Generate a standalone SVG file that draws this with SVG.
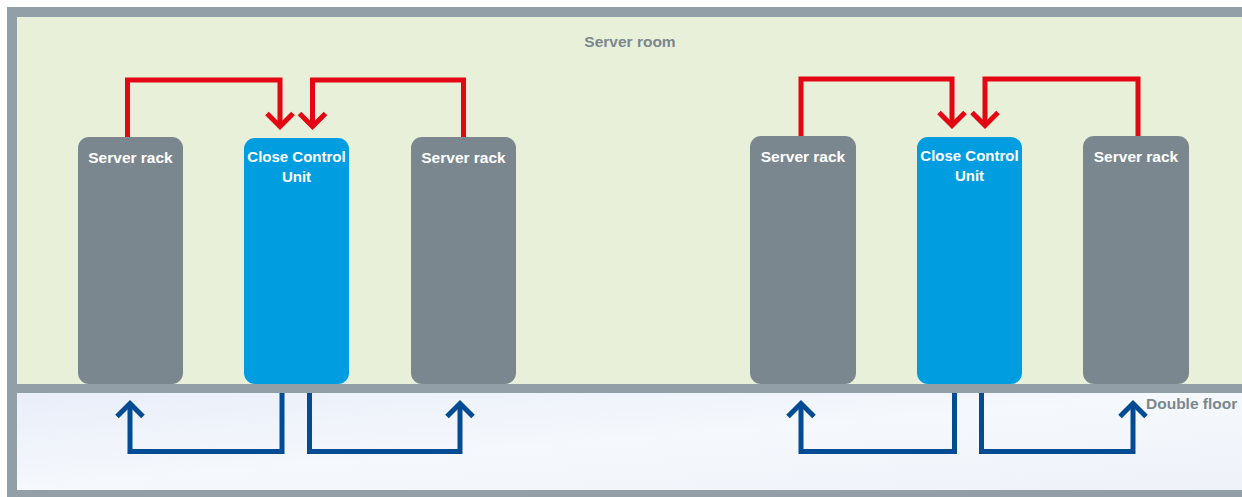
<svg xmlns="http://www.w3.org/2000/svg" width="1242" height="497" viewBox="0 0 1242 497">
  <style>
    .rack { fill: #7b878e; }
    .ccu { fill: #009ee0; }
    .label { font-family: "Liberation Sans", Arial, sans-serif; font-weight: bold; font-size: 15.5px; fill: #ffffff; text-anchor: middle; }
    .ccu-label { font-size: 15px; }
    .area { font-family: "Liberation Sans", Arial, sans-serif; font-weight: bold; font-size: 15.5px; fill: #7b878e; }
    .hot { fill: none; stroke: #e30613; stroke-width: 5; stroke-linejoin: miter; marker-end: url(#hotHead); }
    .cold { fill: none; stroke: #034c94; stroke-width: 5; stroke-linejoin: miter; marker-end: url(#coldHead); }
  </style>
  <defs>
    <linearGradient id="floorFill" x1="0" y1="0" x2="1" y2="1">
      <stop offset="0" stop-color="#e9eef9"/>
      <stop offset="0.5" stop-color="#f5f8fc"/>
      <stop offset="1" stop-color="#eef2f9"/>
    </linearGradient>
    <marker id="hotHead" viewBox="-20 -20 40 40" refX="0" refY="0" markerWidth="40" markerHeight="40" markerUnits="userSpaceOnUse" orient="auto">
      <path d="M-13,-13 L0,0 L-13,13" fill="none" stroke="#e30613" stroke-width="5"/>
    </marker>
    <marker id="coldHead" viewBox="-20 -20 40 40" refX="0" refY="0" markerWidth="40" markerHeight="40" markerUnits="userSpaceOnUse" orient="auto">
      <path d="M-13,-13 L0,0 L-13,13" fill="none" stroke="#034c94" stroke-width="5"/>
    </marker>
  </defs>

  <!-- background and building shell -->
  <rect x="0" y="0" width="1242" height="497" fill="#ffffff"/>
  <rect x="7" y="7" width="1235" height="490" fill="#939fa6"/>
  <rect x="17" y="17" width="1225" height="367" fill="#e8f0da"/>
  <rect x="17" y="393" width="1225" height="97" fill="url(#floorFill)"/>

  <text class="area" x="630" y="47" text-anchor="middle">Server room</text>
  <text class="area" x="1146" y="409">Double floor</text>

  <!-- left group -->
  <g id="rack-l1">
    <rect class="rack" x="78" y="137" width="105" height="247" rx="11"/>
    <text class="label" x="130.5" y="163">Server rack</text>
  </g>
  <g id="ccu-l">
    <rect class="ccu" x="244" y="138" width="105" height="246" rx="11"/>
    <text class="label ccu-label" x="296.5" y="162">Close Control</text>
    <text class="label ccu-label" x="296.5" y="182">Unit</text>
  </g>
  <g id="rack-l2">
    <rect class="rack" x="411" y="137" width="105" height="247" rx="11"/>
    <text class="label" x="463.5" y="163">Server rack</text>
  </g>

  <!-- right group -->
  <g id="rack-r1">
    <rect class="rack" x="750" y="136" width="106" height="248" rx="11"/>
    <text class="label" x="803" y="162">Server rack</text>
  </g>
  <g id="ccu-r">
    <rect class="ccu" x="917" y="137" width="105" height="247" rx="11"/>
    <text class="label ccu-label" x="969.5" y="161">Close Control</text>
    <text class="label ccu-label" x="969.5" y="181">Unit</text>
  </g>
  <g id="rack-r2">
    <rect class="rack" x="1083" y="136" width="106" height="248" rx="11"/>
    <text class="label" x="1136" y="162">Server rack</text>
  </g>

  <!-- airflow: hot return above, cold supply through the raised floor -->
  <g id="connectors">
    <path class="hot" d="M127.5,137 V80 H280 V126.5"/>
    <path class="hot" d="M463.5,137 V80 H312.5 V126.5"/>
    <path class="hot" d="M801,136 V79 H952 V125.5"/>
    <path class="hot" d="M1138,136 V79 H985 V125.5"/>

    <path class="cold" d="M282,393 V451.5 H130 V403.5"/>
    <path class="cold" d="M309.5,393 V451.5 H460 V403.5"/>
    <path class="cold" d="M954.5,393 V451.5 H801 V403.5"/>
    <path class="cold" d="M981.5,393 V451.5 H1133 V403.5"/>
  </g>
</svg>
